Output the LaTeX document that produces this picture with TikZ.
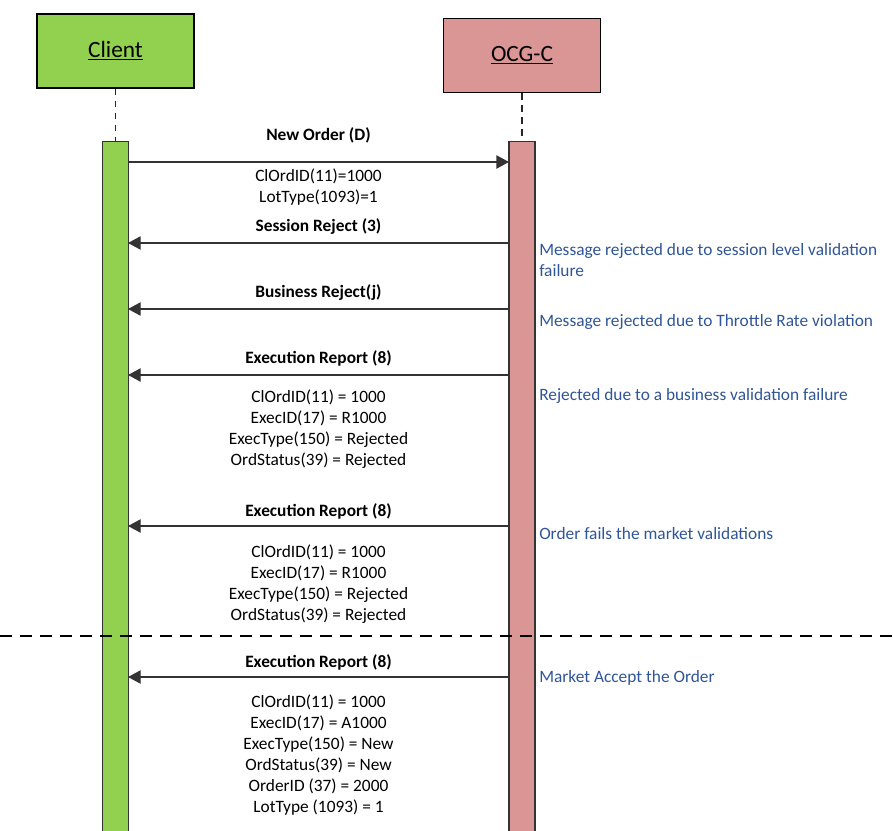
\documentclass[tikz,border=0pt]{standalone}
\usepackage{fontspec}
\setmainfont{Carlito}
\usetikzlibrary{arrows.meta,positioning}
\definecolor{clientgreen}{HTML}{92D050}
\definecolor{ocgpink}{HTML}{D99694}
\definecolor{noteblue}{HTML}{2F5597}

\begin{document}
\begin{tikzpicture}[x=0.75pt,y=-0.75pt,>={Triangle[length=9.5pt,width=10pt]},font=\fontsize{13}{15.75}\selectfont]
  \tikzstyle{actor}=[draw=black,line width=1pt,minimum width=117.75pt,minimum height=55.5pt,font=\fontsize{17.5}{21}\selectfont]
  \tikzstyle{bar}=[draw=black!80,line width=0.9pt,minimum width=19.5pt,minimum height=525pt,anchor=north]
  \tikzstyle{lifeline}=[draw=black!85,line width=0.9pt,dash pattern=on 5pt off 4pt]
  \tikzstyle{msg}=[->,draw=black!80,line width=1pt]
  \tikzstyle{separator}=[draw=black,line width=1.2pt,dash pattern=on 9pt off 6pt]
  \tikzstyle{title}=[font=\bfseries\fontsize{13}{15.75}\selectfont]
  \tikzstyle{fields}=[align=center]
  \tikzstyle{note}=[text=noteblue,anchor=west,align=left,inner sep=0pt]

  \useasboundingbox (0,0) rectangle (893,831);

  % lifelines
  \node[actor,fill=clientgreen] (client) at (115.5,51)  {\underline{Client}};
  \node[actor,fill=ocgpink]     (ocg)    at (522,55.5)  {\underline{OCG-C}};
  \node[bar,fill=clientgreen]   (cbar)   at (115.5,141) {};
  \node[bar,fill=ocgpink]       (obar)   at (522,141)   {};
  \draw[lifeline] (client) -- (cbar);
  \draw[lifeline] (ocg) -- (obar);

  % message end points
  \coordinate (c1) at (128,162); \coordinate (o1) at (509,162);
  \coordinate (c2) at (128,243); \coordinate (o2) at (509,243);
  \coordinate (c3) at (128,309); \coordinate (o3) at (509,309);
  \coordinate (c4) at (128,375); \coordinate (o4) at (509,375);
  \coordinate (c5) at (128,526); \coordinate (o5) at (509,526);
  \coordinate (c6) at (128,677); \coordinate (o6) at (509,677);

  \draw[msg] (c1) -- (o1);
  \draw[msg] (o2) -- (c2);
  \draw[msg] (o3) -- (c3);
  \draw[msg] (o4) -- (c4);
  \draw[msg] (o5) -- (c5);
  \draw[msg] (o6) -- (c6);

  % message texts
  \node[title]  (t1) at (318.5,135) {New Order (D)};
  \node[fields] (f1) at (318.5,187) {ClOrdID(11)=1000\\LotType(1093)=1};
  \node[title]  (t2) at (318.5,227) {Session Reject (3)};
  \node[title]  (t3) at (318.5,293) {Business Reject(j)};
  \node[title]  (t4) at (318.5,358) {Execution Report (8)};
  \node[fields] (f4) at (318.5,429) {ClOrdID(11) = 1000\\ExecID(17) = R1000\\ExecType(150) = Rejected\\OrdStatus(39) = Rejected};
  \node[title]  (t5) at (318.5,511) {Execution Report (8)};
  \node[fields] (f5) at (318.5,584) {ClOrdID(11) = 1000\\ExecID(17) = R1000\\ExecType(150) = Rejected\\OrdStatus(39) = Rejected};
  \node[title]  (t6) at (318.5,662) {Execution Report (8)};
  \node[fields] (f6) at (318.5,755) {ClOrdID(11) = 1000\\ExecID(17) = A1000\\ExecType(150) = New\\OrdStatus(39) = New\\OrderID (37) = 2000\\LotType (1093) = 1};

  % notes
  \node[note] (n2) at (539,260) {Message rejected due to session level validation\\failure};
  \node[note] (n3) at (539,322) {Message rejected due to Throttle Rate violation};
  \node[note] (n4) at (539,396) {Rejected due to a business validation failure};
  \node[note] (n5) at (539,534) {Order fails the market validations};
  \node[note] (n6) at (539,678) {Market Accept the Order};

  % separator
  \coordinate (sepL) at (0,636);
  \coordinate (sepR) at (893,636);
  \draw[separator] (sepL) -- (sepR);
\end{tikzpicture}
\end{document}
